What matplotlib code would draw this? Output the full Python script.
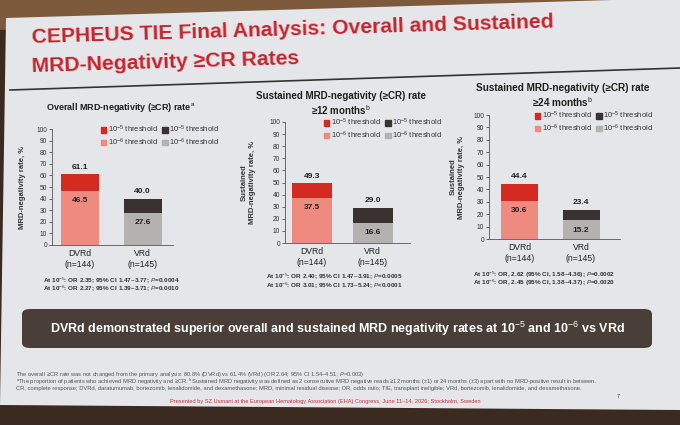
import numpy as np
import matplotlib
matplotlib.use("Agg")
import matplotlib.pyplot as plt
from matplotlib.patches import Polygon, FancyBboxPatch, Patch
from matplotlib.lines import Line2D

plt.rcParams['font.family'] = ['Liberation Sans', 'DejaVu Sans']
plt.rcParams['mathtext.fontset'] = 'custom'
plt.rcParams['mathtext.rm'] = 'Liberation Sans'
plt.rcParams['mathtext.it'] = 'Liberation Sans:italic'
plt.rcParams['mathtext.bf'] = 'Liberation Sans:bold'

# --------------------------------------------------------------
# Data
# --------------------------------------------------------------
groups = ["DVRd\n(n=144)", "VRd\n(n=145)"]

overall_1e5 = [61.1, 40.0]
overall_1e6 = [46.5, 27.6]
sust12_1e5 = [49.3, 29.0]
sust12_1e6 = [37.5, 16.6]
sust24_1e5 = [44.4, 23.4]
sust24_1e6 = [30.6, 15.2]

panel_titles = [
    "Overall MRD-negativity (\u2265CR) rate$^{\\rm a}$",
    "Sustained MRD-negativity (\u2265CR) rate\n\u226512 months$^{\\rm b}$",
    "Sustained MRD-negativity (\u2265CR) rate\n\u226524 months$^{\\rm b}$",
]
ylabels = [
    "MRD-negativity rate, %",
    "Sustained\nMRD-negativity rate, %",
    "Sustained\nMRD-negativity rate, %",
]
stats_text = [
    ["At 10$^{-5}$: OR 2.35; 95% CI 1.47\u20133.77; $\\it{P}$=0.0004",
     "At 10$^{-6}$: OR 2.27; 95% CI 1.39\u20133.71; $\\it{P}$=0.0010"],
    ["At 10$^{-5}$: OR 2.40; 95% CI 1.47\u20133.91; $\\it{P}$=0.0005",
     "At 10$^{-6}$: OR 3.01; 95% CI 1.73\u20135.24; $\\it{P}$<0.0001"],
    ["At 10$^{-5}$: OR, 2.62 (95% CI, 1.58\u20134.36); $\\it{P}$=0.0002",
     "At 10$^{-6}$: OR, 2.45 (95% CI, 1.38\u20134.37); $\\it{P}$=0.0020"],
]
legend_labels = ["10$^{-5}$ threshold", "10$^{-6}$ threshold",
                 "10$^{-5}$ threshold", "10$^{-6}$ threshold"]

footnotes = [
    "The overall \u2265CR rate was not changed from the primary analysis: 80.8% (DVRd) vs 61.4% (VRd) (OR 2.64; 95% CI 1.54\u20134.51; $\\it{P}$=0.003)",
    "$^{\\rm a}$The proportion of patients who achieved MRD negativity and \u2265CR. $^{\\rm b}$Sustained MRD negativity was defined as 2 consecutive MRD negative reads \u226512 months (\u00b11) or 24 months (\u00b13) apart with no MRD-positive result in between.",
    "CR, complete response; DVRd, daratumumab, bortezomib, lenalidomide, and dexamethasone; MRD, minimal residual disease; OR, odds ratio; TIE, transplant ineligible; VRd, bortezomib, lenalidomide, and dexamethasone.",
]

# colours
RED = "#d32a22"
SALMON = "#ef8a7f"
DARK = "#3a3230"
GRAY = "#b4b2b1"
SLIDE = "#e5e6ea"
TITLE_RED = "#c8232b"

# --------------------------------------------------------------
# Figure / slide
# --------------------------------------------------------------
W, H = 680, 425
fig = plt.figure(figsize=(6.8, 4.25), dpi=100, facecolor="#3a2a20")


def fx(x):
    return x / W


def fy(y):
    return 1 - y / H


# warm curtain strip on top
fig.patches.append(Polygon([(0, 1), (1, 1), (1, fy(-2)), (0, fy(30))],
                           closed=True, transform=fig.transFigure,
                           facecolor="#7d5a3c", edgecolor="none", zorder=0))
# slide
fig.patches.append(Polygon([(fx(6), fy(18)), (fx(680), fy(-2)),
                            (fx(680), fy(410)), (fx(0), fy(405))],
                           closed=True, transform=fig.transFigure,
                           facecolor=SLIDE, edgecolor="none", zorder=1))

# slide title (slightly tilted like the photo)
fig.text(fx(32), fy(43), "CEPHEUS TIE Final Analysis: Overall and Sustained",
         color=TITLE_RED, fontsize=15.2, fontweight="bold", rotation=1.7,
         rotation_mode="anchor", ha="left", va="baseline")
fig.text(fx(32), fy(72), "MRD-Negativity \u2265CR Rates",
         color=TITLE_RED, fontsize=15.2, fontweight="bold", rotation=1.7,
         rotation_mode="anchor", ha="left", va="baseline")
fig.lines.append(Line2D([fx(10), fx(680)], [fy(90), fy(68)],
                        transform=fig.transFigure, color="#333333", lw=1.2))

# --------------------------------------------------------------
# Panels
# --------------------------------------------------------------
# pixel layout: axis left, axis right, zero line, 100 line, bar centres, bar width
layout = [
    dict(L=52, R=173, y0=245, y100=129, c=(80, 142.5), bw=38, tsize=6.5,
         title=(121, 107), ylab=(22,), leg=(101, 124), stats=(43, 285)),
    dict(L=285, R=410, y0=243, y100=122, c=(312, 372.5), bw=40, tsize=7.0,
         title=(341, 104), ylab=(248,), leg=(324, 117), stats=(266, 281.5)),
    dict(L=489, R=620, y0=239, y100=115, c=(519.5, 581), bw=37, tsize=7.2,
         title=(563, 96), ylab=(457,), leg=(535, 110), stats=(473, 279)),
]
series = [(overall_1e5, overall_1e6), (sust12_1e5, sust12_1e6),
          (sust24_1e5, sust24_1e6)]

for i, lay in enumerate(layout):
    v5, v6 = series[i]
    unit = lay["c"][1] - lay["c"][0]
    xl = -(lay["c"][0] - lay["L"]) / unit
    xr = 1 + (lay["R"] - lay["c"][1]) / unit
    width = lay["bw"] / unit

    ax = fig.add_axes([fx(lay["L"]), fy(lay["y0"]),
                       (lay["R"] - lay["L"]) / W, (lay["y0"] - lay["y100"]) / H])
    ax.set_facecolor("none")
    ax.set_zorder(3)
    x = np.arange(len(groups))
    ax.bar(x, v5, width, color=[RED, DARK], zorder=2)
    ax.bar(x, v6, width, color=[SALMON, GRAY], zorder=3)
    for xi, t, b in zip(x, v5, v6):
        ax.text(xi, t + 3, f"{t:.1f}", ha="center", va="bottom",
                fontsize=6, fontweight="bold", color="#222222")
        ax.text(xi, b - 8, f"{b:.1f}", ha="center", va="center",
                fontsize=6, fontweight="bold", color="#222222", zorder=4)
    ax.set_xlim(xl, xr)
    ax.set_ylim(0, 100)
    ax.set_yticks(range(0, 101, 10))
    ax.set_xticks(x)
    ax.set_xticklabels(groups, fontsize=6.2, color="#222222", linespacing=1.2)
    ax.tick_params(axis="x", length=0, pad=3)
    ax.tick_params(axis="y", length=2, width=0.5, labelsize=4.8, pad=1.5,
                   colors="#333333")
    for s in ["top", "right"]:
        ax.spines[s].set_visible(False)
    for s in ["left", "bottom"]:
        ax.spines[s].set_color("#555555")
        ax.spines[s].set_linewidth(0.6)

    handles = [Patch(color=RED), Patch(color=SALMON),
               Patch(color=DARK), Patch(color=GRAY)]
    ax.legend(handles, legend_labels, loc="upper left",
              bbox_to_anchor=(fx(lay["leg"][0]), fy(lay["leg"][1])),
              bbox_transform=fig.transFigure, ncol=2, frameon=False,
              fontsize=5.5, handlelength=0.7, handleheight=0.7,
              handletextpad=0.2, columnspacing=0.6, labelspacing=0.15,
              borderpad=0, borderaxespad=0, labelcolor="#333333")

    fig.text(fx(lay["title"][0]), fy(lay["title"][1]), panel_titles[i],
             ha="center", va="center", fontsize=lay["tsize"], fontweight="bold",
             color="#1e1e1e", linespacing=1.25)
    fig.text(fx(lay["ylab"][0]), fy((lay["y0"] + lay["y100"]) / 2), ylabels[i],
             rotation=90, ha="center", va="center", fontsize=5.5,
             fontweight="bold", color="#333333", linespacing=1.3)
    sx, sy = lay["stats"]
    fig.text(fx(sx), fy(sy), "\n".join(stats_text[i]), ha="left", va="center",
             fontsize=4.6, fontweight="bold", color="#333333", linespacing=0.75)

# --------------------------------------------------------------
# Banner and footer
# --------------------------------------------------------------
fig.patches.append(FancyBboxPatch((fx(22), fy(348)), fx(630), (348 - 309) / H,
                                  boxstyle="round,pad=0,rounding_size=0.012",
                                  transform=fig.transFigure,
                                  facecolor="#4a3f38", edgecolor="none", zorder=2))
fig.text(fx(337), fy(329),
         "DVRd demonstrated superior overall and sustained MRD negativity rates at 10$^{-5}$ and 10$^{-6}$ vs VRd",
         ha="center", va="center", fontsize=9.0, fontweight="bold",
         color="white", zorder=3)

fig.text(fx(16), fy(380.5), "\n".join(footnotes), ha="left", va="center",
         fontsize=4.15, color="#555555", linespacing=0.78, zorder=3)
fig.text(fx(325), fy(401),
         "Presented by SZ Usmani at the European Hematology Association (EHA) Congress, June 11\u201314, 2026; Stockholm, Sweden",
         ha="center", va="center", fontsize=4.05, color="#c0303a", zorder=3)
fig.text(fx(618), fy(397), "7", ha="center", va="center", fontsize=4,
         color="#333333", zorder=3)

# QR-code-like badge built from the bytes of a fixed string
code = np.unpackbits(np.frombuffer(b"CEPHEUS TIE EHA 2026 Usmani MRD slide 7 QR code..", dtype=np.uint8))
grid = np.ones((21, 21))
grid.flat[:400] = 1 - code[:400]
for r, c in [(0, 0), (0, 14), (14, 0)]:
    grid[r:r + 7, c:c + 7] = 1
    grid[r:r + 7, c] = grid[r:r + 7, c + 6] = 0
    grid[r, c:c + 7] = grid[r + 6, c:c + 7] = 0
    grid[r + 2:r + 5, c + 2:c + 5] = 0
qax = fig.add_axes([fx(634), fy(397), 31 / W, 31 / H])
qax.imshow(grid, cmap="gray", interpolation="nearest", vmin=0, vmax=1)
qax.axis("off")

fig.savefig("out.png", dpi=100, facecolor=fig.get_facecolor())
